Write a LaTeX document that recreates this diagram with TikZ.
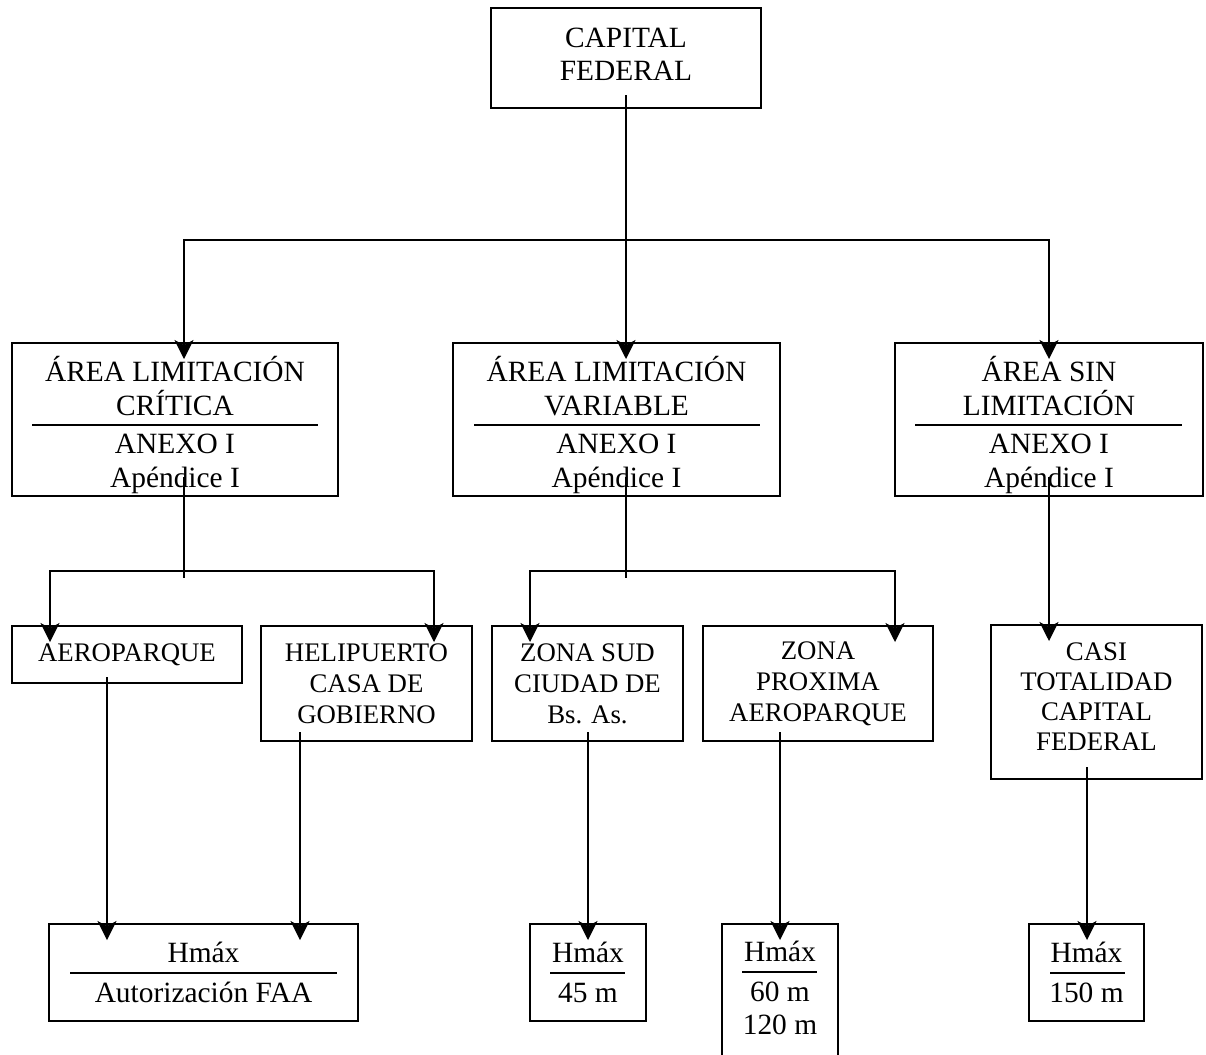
\documentclass[tikz,border=0pt]{standalone}
\usepackage{fontspec}
\setmainfont{Liberation Serif}
\usetikzlibrary{arrows.meta}
% struts to move the text inside a box
\newcommand{\sink}[1]{\rule{0pt}{#1}}
\newcommand{\lift}[1]{\rule[-#1]{0pt}{#1}}

\begin{document}
\begin{tikzpicture}[x=0.5pt,y=-0.5pt,line width=0.7pt,
        box/.style={draw,rectangle,inner sep=0pt,outer sep=0pt,align=center,
            font=\fontsize{13.4}{15.5}\selectfont},
        bigbox/.style={box,font=\fontsize{14.7}{16.5}\selectfont},
        areabox/.style={bigbox,minimum height=76.5pt,font=\fontsize{14.7}{17}\selectfont},
        zonebox/.style={box,minimum height=57.5pt},
        hbox/.style={bigbox,minimum height=48.5pt},
        arr/.style={-{Stealth[length=9.5pt,width=9.5pt,inset=2.5pt]},shorten >=-8pt},
        arrboth/.style={{Stealth[length=9.5pt,width=9.5pt,inset=2.5pt]}-{Stealth[length=9.5pt,width=9.5pt,inset=2.5pt]},
            shorten <=-8pt,shorten >=-8pt}]
    \useasboundingbox (0,0) rectangle (1206,1055);

    % top
    \node [bigbox,minimum width=135pt,minimum height=50pt] (capfed) at (626,58) {CAPITAL\\FEDERAL\lift{4pt}};

    % areas
    \node [areabox,minimum width=163pt] (critica) at (175,419.5) {\sink{18.5pt}ÁREA LIMITACIÓN\\CRÍTICA\\[2pt]ANEXO I\\Apéndice I};
    \node [areabox,minimum width=163.5pt] (variable) at (616.5,419.5) {\sink{18.5pt}ÁREA LIMITACIÓN\\VARIABLE\\[2pt]ANEXO I\\Apéndice I};
    \node [areabox,minimum width=154pt] (sinlim) at (1049,419.5) {\sink{18.5pt}ÁREA SIN\\LIMITACIÓN\\[2pt]ANEXO I\\Apéndice I};
    \draw (32,425) -- (318,425);
    \draw (474,425) -- (760,425);
    \draw (915,425) -- (1182,425);

    % zones
    \node [box,minimum width=115pt,minimum height=28.5pt] (aero) at (127,654.5) {AEROPARQUE};
    \node [zonebox,minimum width=105.5pt] (heli) at (366.5,683.5) {HELIPUERTO\\CASA DE\\GOBIERNO};
    \node [zonebox,minimum width=95.5pt] (zsud) at (587.5,683.5) {ZONA SUD\\CIUDAD DE\\Bs. As.};
    \node [zonebox,minimum width=115pt] (zprox) at (818,683.5) {ZONA\\PROXIMA\\AEROPARQUE};
    \node [box,minimum width=105.5pt,minimum height=77pt,font=\fontsize{13.4}{15}\selectfont] (casi) at (1096.5,702) {CASI\\TOTALIDAD\\CAPITAL\\FEDERAL\lift{5pt}};

    % heights
    \node [hbox,minimum width=154.5pt] (hfaa) at (203.5,972.5) {Hmáx\\[3.5pt]Autorización FAA};
    \node [hbox,minimum width=58pt] (hsud) at (588,972.5) {Hmáx\\[3.5pt]45 m};
    \node [bigbox,minimum width=58pt,minimum height=69pt] (hprox) at (780,993) {Hmáx\\[3.5pt]60 m\\120 m\lift{5pt}};
    \node [hbox,minimum width=57.5pt] (hcasi) at (1086.5,972.5) {Hmáx\\[3.5pt]150 m};
    \draw (70,973) -- (337,973);
    \draw (550,973) -- (625,973);
    \draw (742,972) -- (817,972);
    \draw (1050,973) -- (1125,973);

    % connectors
    \coordinate (busA) at (184,240);
    \coordinate (busB1) at (50,571);
    \coordinate (busB2) at (434,571);
    \coordinate (busC1) at (530,571);
    \coordinate (busC2) at (895,571);

    \draw [arr] ([yshift=6.5pt]capfed.south) -- (capfed.south |- variable.north);
    \draw [arrboth] (sinlim.north) |- (busA) -- (busA |- critica.north);

    \draw ([yshift=9.5pt]critica.south -| busA) -- ++(0,101);
    \draw [arrboth] (busB1 |- aero.north) -- (busB1) -- (busB2) -- (busB2 |- heli.north);
    \draw ([yshift=9.5pt]variable.south -| capfed.south) -- ++(0,101);
    \draw [arrboth] (busC1 |- zsud.north) -- (busC1) -- (busC2) -- (busC2 |- zprox.north);
    \draw [arr] ([yshift=9.5pt]sinlim.south) -- (sinlim.south |- casi.north);

    \draw [arr] ([xshift=-10pt,yshift=3pt]aero.south) coordinate (a1) -- (a1 |- hfaa.north);
    \draw [arr] ([xshift=-33.25pt,yshift=4.5pt]heli.south) coordinate (a2) -- (a2 |- hfaa.north);
    \draw [arr] ([xshift=0.25pt,yshift=4.5pt]zsud.south) coordinate (a3) -- (a3 |- hsud.north);
    \draw [arr] ([xshift=-19pt,yshift=4.5pt]zprox.south) coordinate (a4) -- (a4 |- hprox.north);
    \draw [arr] ([xshift=-4.75pt,yshift=6pt]casi.south) coordinate (a5) -- (a5 |- hcasi.north);
\end{tikzpicture}
\end{document}
